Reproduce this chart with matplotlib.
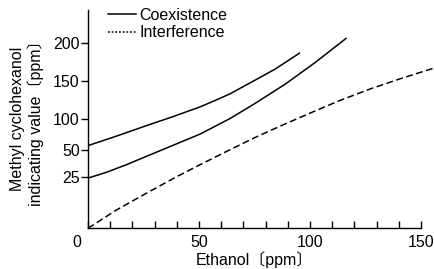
import numpy as np
import matplotlib
matplotlib.use('Agg')
import matplotlib.pyplot as plt
import matplotlib.transforms as mtransforms
from matplotlib.lines import Line2D

plt.rcParams['font.family'] = ['Liberation Sans', 'Noto Sans CJK JP']

# y axis of the original is not linear: tick value -> relative position
scale_vals = [0, 25, 50, 100, 150, 200, 250]
scale_pos = [0, 51, 77.6, 109, 146.6, 184.3, 222]

def fwd(v):
    return np.interp(v, scale_vals, scale_pos)

def inv(p):
    return np.interp(p, scale_pos, scale_vals)

# curves
coex_hi_x = [0, 13.1, 26.1, 38.3, 50.5, 57.2, 64.0, 75.2, 84.2, 95.2]
coex_hi_y = [57.5, 72.9, 88.9, 102.9, 115.8, 124.2, 133.1, 151.1, 165.6, 186.7]
coex_lo_x = [0, 8.1, 17.1, 26.1, 38.3, 50.5, 64.0, 75.2, 88.7, 102.3, 116.2]
coex_lo_y = [24.5, 29.3, 36.4, 44.2, 58.0, 75.8, 100.4, 120.3, 145.6, 174.4, 206.2]
interf_x = [0, 12.6, 26.1, 39.6, 50.5, 64.0, 76.1, 88.7, 102.3, 113.5, 127.0, 140.5, 155.5]
interf_y = [0, 8.8, 17.0, 25.0, 36.6, 51.1, 71.8, 91.7, 110.4, 124.3, 139.4, 152.9, 166.8]

xticks = [0, 50, 100, 150]
yticks = [25, 50, 100, 150, 200]
fs = 11.5

fig = plt.figure(figsize=(4.34, 2.69), dpi=100)
ax = fig.add_axes([88/434, 1-228.3/269, 333/434, 218.3/269])
ax.set_yscale('function', functions=(fwd, inv))

ax.plot(coex_hi_x, coex_hi_y, color='black', lw=1.1)
ax.plot(coex_lo_x, coex_lo_y, color='black', lw=1.1)
ax.plot(interf_x, interf_y, color='black', lw=1.1, linestyle=(0, (4.5, 2.3)), clip_on=False)

ax.set_xlim(0, 150)
ax.set_ylim(0, 243.8)
ax.spines['top'].set_visible(False)
ax.spines['right'].set_visible(False)
ax.spines['left'].set_linewidth(1.0)
ax.spines['bottom'].set_linewidth(1.0)

ax.set_xticks(np.arange(0, 151, 10))
ax.set_xticklabels([str(int(t)) if t in xticks else '' for t in np.arange(0, 151, 10)], fontsize=fs)
ax.tick_params(axis='x', direction='in', length=5, width=1, pad=5)
ax.set_yticks(yticks)
ax.set_yticklabels([str(t) for t in yticks], fontsize=fs)
ax.tick_params(axis='y', direction='out', length=5, width=1, pad=1)

# the "0" sits left of the origin in the original
lab0 = ax.get_xticklabels()[0]
lab0.set_transform(lab0.get_transform() + mtransforms.ScaledTranslation(-11/100, 0, fig.dpi_scale_trans))

ax.set_xlabel('Ethanol〔ppm〕', fontsize=fs, labelpad=0.5)
fig.text(27/434, 1-119/269, 'Methyl cyclohexanol\nindicating value〔ppm〕', rotation=90,
         ha='center', va='center', multialignment='center', fontsize=fs, linespacing=1.1)

handles = [Line2D([], [], color='black', lw=1.1),
           Line2D([], [], color='black', lw=1.1, linestyle=(0, (1.2, 1.2)))]
fig.legend(handles, ['Coexistence', 'Interference'], loc='upper left',
           bbox_to_anchor=(108/434, 1-8/269), bbox_transform=fig.transFigure,
           frameon=False, fontsize=fs, handlelength=1.75, handletextpad=0.2,
           labelspacing=0.15, borderpad=0, borderaxespad=0)

fig.savefig('out.png', dpi=100)
